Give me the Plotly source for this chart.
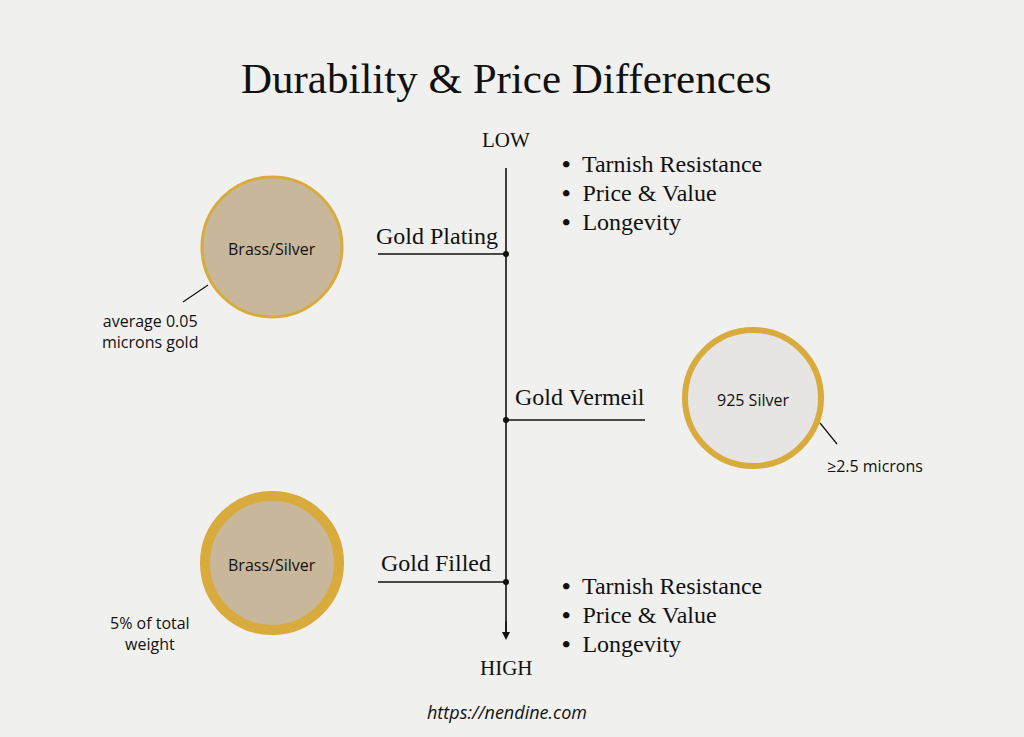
import plotly.graph_objects as go

title = "Durability & Price Differences"
methods = ["Gold Plating", "Gold Vermeil", "Gold Filled"]
base_metals = ["Brass/Silver", "925 Silver", "Brass/Silver"]
gold_notes = ["average 0.05<br>microns gold", "≥2.5 microns", "5% of total<br>weight"]
bullets = ["Tarnish Resistance", "Price & Value", "Longevity"]
scale_ends = ["LOW", "HIGH"]
url = "https://nendine.com"

BG = "#f0f0ef"
GOLD = "#d9aa3c"
fig = go.Figure()
shapes = []
ann = []
serif = "Liberation Serif, DejaVu Serif, serif"
sans = "Open Sans, sans-serif"

shapes.append(dict(type="line", x0=506, x1=506, y0=168, y1=634, line=dict(color="#111", width=1.6)))
ann.append(dict(x=506, y=640, ax=506, ay=620, xref="x", yref="y", axref="x", ayref="y",
                showarrow=True, arrowhead=2, arrowsize=1, arrowwidth=1.6, arrowcolor="#111", text=""))
ann.append(dict(x=506, y=140, text=scale_ends[0], showarrow=False, font=dict(family=serif, size=21, color="#111")))
ann.append(dict(x=506, y=668, text=scale_ends[1], showarrow=False, font=dict(family=serif, size=21, color="#111")))

branch = [(254, 378, 506, 437, 236), (420, 506, 645, 580, 397), (582, 378, 506, 436, 563)]
for (y, xa, xb, lx, ly), m in zip(branch, methods):
    shapes.append(dict(type="line", x0=xa, x1=xb, y0=y, y1=y, line=dict(color="#111", width=1.3)))
    shapes.append(dict(type="circle", x0=503, x1=509, y0=y-3, y1=y+3, fillcolor="#111", line=dict(width=0)))
    ann.append(dict(x=lx, y=ly, text=m, showarrow=False, font=dict(family=serif, size=24, color="#111")))

circ = [(272, 247, 70, 3, "#c9b79c"), (753, 398, 68, 6, "#e6e5e3"), (272, 563, 67, 10, "#c9b79c")]
for (cx, cy, r, bw, fc), lab in zip(circ, base_metals):
    shapes.append(dict(type="circle", x0=cx-r, x1=cx+r, y0=cy-r, y1=cy+r, fillcolor=fc,
                       line=dict(color=GOLD, width=bw)))
    ann.append(dict(x=cx, y=cy+2, text=lab, showarrow=False, font=dict(family=sans, size=16, color="#111")))

shapes.append(dict(type="line", x0=208, x1=183, y0=285, y1=302, line=dict(color="#111", width=1.2)))
shapes.append(dict(type="line", x0=820, x1=837, y0=423, y1=444, line=dict(color="#111", width=1.2)))
ann.append(dict(x=150, y=331, text=gold_notes[0], showarrow=False, font=dict(family=sans, size=16, color="#111")))
ann.append(dict(x=875, y=466, text=gold_notes[1], showarrow=False, font=dict(family=sans, size=16, color="#111")))
ann.append(dict(x=150, y=633, text=gold_notes[2], showarrow=False, font=dict(family=sans, size=16, color="#111")))

for y0 in (164, 586):
    for i, b in enumerate(bullets):
        ann.append(dict(x=560, y=y0 + 29*i, text="<b>•</b>  " + b, xanchor="left", showarrow=False,
                        font=dict(family=serif, size=24, color="#111")))

ann.append(dict(x=506, y=78, text=title, showarrow=False, font=dict(family=serif, size=43, color="#111")))
ann.append(dict(x=507, y=712, text="<i>" + url + "</i>", showarrow=False, font=dict(family=sans, size=18, color="#111")))

for a in ann:
    a.setdefault("xref", "x"); a.setdefault("yref", "y")

fig.update_layout(width=1024, height=737, margin=dict(l=0, r=0, t=0, b=0),
                  paper_bgcolor=BG, plot_bgcolor=BG, shapes=shapes, annotations=ann,
                  xaxis=dict(range=[0, 1024], visible=False, fixedrange=True),
                  yaxis=dict(range=[737, 0], visible=False, fixedrange=True),
                  showlegend=False)
fig.write_html("out.html", config={"displayModeBar": False},
               post_script="document.body.style.margin='0';document.body.style.overflow='hidden';document.body.style.background='#f0f0ef';")
